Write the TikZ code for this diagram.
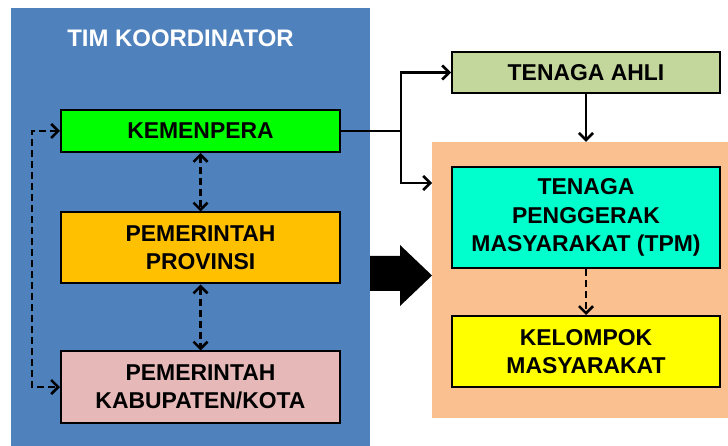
\documentclass[tikz,border=0pt]{standalone}
\usepackage{fontspec}
\setmainfont{Liberation Sans}
\usetikzlibrary{arrows.meta}
\definecolor{panelblue}{HTML}{4F81BD}
\definecolor{panelpeach}{HTML}{FAC090}
\definecolor{kemgreen}{HTML}{00FF00}
\definecolor{provorange}{HTML}{FFC000}
\definecolor{kabpink}{HTML}{E6B9B8}
\definecolor{ahligreen}{HTML}{C3D69B}
\definecolor{tpmcyan}{HTML}{00FFCC}
\definecolor{kelyellow}{HTML}{FFFF00}
\tikzset{
  box/.style={draw=black, line width=2bp, inner sep=0pt, align=center,
    font=\fontsize{23}{28.5}\selectfont\bfseries, text=black},
  tip/.tip={Straight Barb[length=7bp,width=14bp]},
  conn/.style={line width=2.6bp, draw=black, arrows={-tip}},
  dconn/.style={conn, dash pattern=on 7bp off 4bp},
  bidir/.style={arrows={tip-tip}},
  panel/.style={inner sep=0pt, draw=none},
}
\begin{document}
\begin{tikzpicture}[x=1bp,y=-1bp]
\useasboundingbox (0,0) rectangle (728,446);
% panels
\node[panel, fill=panelblue, minimum width=359bp, minimum height=438bp] (blue) at (190.5,227) {};
\node[panel, fill=panelpeach, minimum width=296bp, minimum height=276bp] (peach) at (580,280) {};
\node[font=\fontsize{24}{28}\selectfont\bfseries, text=white] (title) at (180.5,38) {TIM KOORDINATOR};
% left boxes
\node[box, fill=kemgreen, minimum width=279bp, minimum height=42bp] (kem) at (200.5,131) {KEMENPERA};
\node[box, fill=provorange, minimum width=279bp, minimum height=71bp] (prov) at (200.5,248) {PEMERINTAH\\PROVINSI};
\node[box, fill=kabpink, minimum width=279bp, minimum height=71bp] (kab) at (200.5,387) {PEMERINTAH\\KABUPATEN/KOTA};
% right boxes
\node[box, fill=ahligreen, minimum width=268bp, minimum height=41bp] (ahli) at (586,72.5) {TENAGA AHLI};
\node[box, fill=tpmcyan, minimum width=268bp, minimum height=101bp] (tpm) at (586,217.5) {TENAGA\\PENGGERAK\\MASYARAKAT (TPM)};
\node[box, fill=kelyellow, minimum width=268bp, minimum height=71bp] (kel) at (586,351.5) {KELOMPOK\\MASYARAKAT};
% connectors left
\draw[dconn, bidir] (kem.south) -- (prov.north);
\draw[dconn, bidir] (prov.south) -- (kab.north);
\coordinate (l1) at (32,131);
\coordinate (l2) at (32,387);
\draw[dconn, bidir] (kem.west) -- (l1) -- (l2) -- (kab.west);
% connectors right
\coordinate (junc) at (401,131);
\coordinate (tpmin) at (432,183);
\draw[line width=2.6bp] (kem.east) -- (junc);
\draw[conn] (junc) |- (ahli.west);
\draw[conn] (junc) |- (tpmin);
\draw[conn] (ahli.south) -- (ahli.south |- peach.north);
\draw[dconn] (tpm.south) -- (kel.north);
% big arrow
\fill[black] (370,256) -- (400,256) -- (400,245) -- (432,275.5) -- (400,306) -- (400,291) -- (370,291) -- cycle;
\end{tikzpicture}
\end{document}
